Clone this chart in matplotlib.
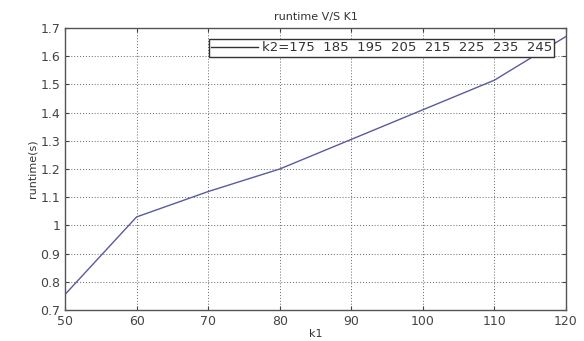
import matplotlib
matplotlib.use('Agg')
import matplotlib.pyplot as plt

k1 = [50, 60, 70, 80, 90, 100, 110, 120]
runtime = [0.755, 1.03, 1.12, 1.2, 1.305, 1.41, 1.515, 1.67]
k2_label = "k2=175  185  195  205  215  225  235  245"

plt.rcParams['font.family'] = 'DejaVu Sans'
fig = plt.figure(figsize=(5.84, 3.41), dpi=100)
ax = fig.add_axes([65/584, 1 - 310/341, (566-65)/584, (310-28)/341])

ax.plot(k1, runtime, color='#5a5aa0', lw=1.0, label=k2_label)
ax.set_xlim(50, 120)
ax.set_ylim(0.7, 1.7)
ax.set_xticks(range(50, 121, 10))
ax.set_yticks([0.7, 0.8, 0.9, 1.0, 1.1, 1.2, 1.3, 1.4, 1.5, 1.6, 1.7])
ax.set_yticklabels(['0.7', '0.8', '0.9', '1', '1.1', '1.2', '1.3', '1.4', '1.5', '1.6', '1.7'])
ax.grid(True, linestyle=(0, (1, 2)), color='#666666', lw=0.7)
ax.tick_params(direction='in', labelsize=9, colors='#444444', top=True, right=True, length=3)
for s in ax.spines.values():
    s.set_color('#555555')
    s.set_linewidth(1.0)

ax.set_title('runtime V/S K1', fontsize=8, color='#333333', pad=6)
ax.set_xlabel('k1', fontsize=8, color='#333333', labelpad=1)
ax.set_ylabel('runtime(s)', fontsize=8, color='#333333', labelpad=2)

leg = ax.legend(loc='upper right', fontsize=9.5, fancybox=False, framealpha=1,
                edgecolor='#333333', handlelength=3.5, handletextpad=0.3,
                borderpad=0.2, bbox_to_anchor=(0.99, 0.985))
leg.get_frame().set_linewidth(1.0)
for t in leg.get_texts():
    t.set_color('#333333')
leg.get_lines()[0].set_color('#333333')

fig.savefig('out.png', dpi=100)
